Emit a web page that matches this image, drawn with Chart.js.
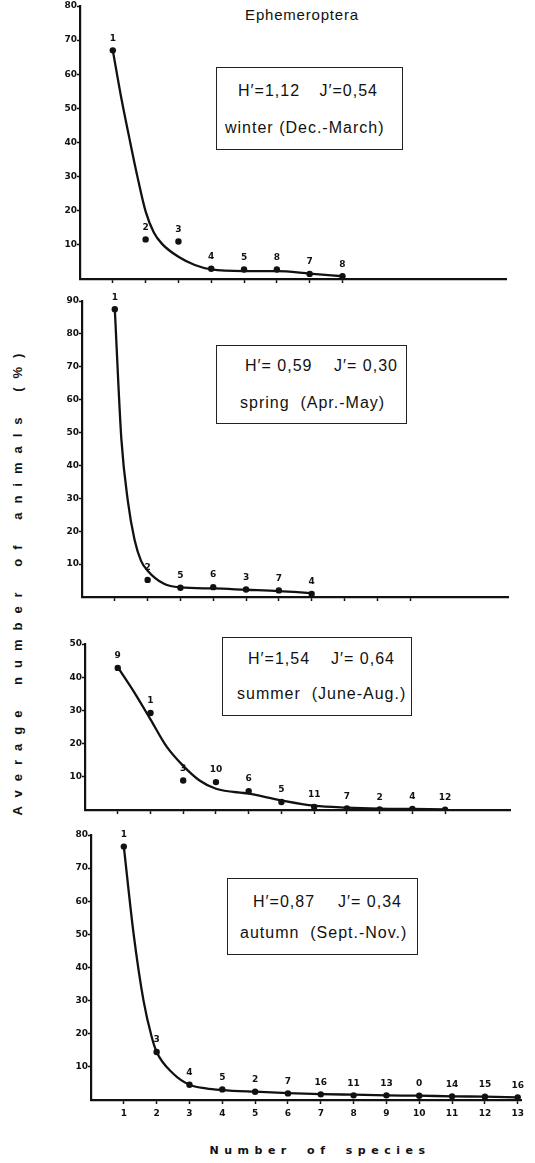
<!DOCTYPE html>
<html>
<head>
<meta charset="utf-8">
<script src="https://cdn.jsdelivr.net/npm/chart.js@4.4.1/dist/chart.umd.min.js"></script>
<style>
  html, body { margin: 0; padding: 0; background: #fff; }
  #page { position: relative; width: 535px; height: 1163px; overflow: hidden;
          font-family: "Liberation Sans", Arial, sans-serif; color: #111; }
  canvas.panel { position: absolute; left: 0; }
  .box { position: absolute; border: 1.5px solid #222; box-sizing: border-box; }
  .txt { position: absolute; font-size: 16px; letter-spacing: 1px; white-space: pre; line-height: 18px; }
  .row { position: absolute; display: flex; justify-content: space-between; font-size: 16px;
         letter-spacing: 1px; white-space: pre; line-height: 18px; }
  #title { position: absolute; left: 202px; width: 200px; top: 6px; text-align: center;
           font-size: 15px; letter-spacing: 0.8px; }
  #ytitle { position: absolute; left: -222px; top: 571px; width: 480px; height: 18px; line-height: 18px;
            text-align: center; transform: rotate(-90deg); font-size: 13px; font-weight: bold;
            letter-spacing: 9px; word-spacing: 4px; white-space: pre; }
  #xtitle { position: absolute; left: 170px; width: 300px; top: 1144px; text-align: center;
            font-family: "DejaVu Sans", sans-serif; font-size: 11px; font-weight: bold;
            letter-spacing: 5.5px; word-spacing: 6px; white-space: pre; }
</style>
</head>
<body>
<div id="page">
  <div id="title">Ephemeroptera</div>
  <div id="ytitle">Average number of animals (%)</div>
  <div id="xtitle">Number of species</div>

  <div class="box" style="left:216px;top:67px;width:187px;height:83px"></div>
  <div class="row" style="left:238px;top:82px;width:140px"><span>H′=1,12</span><span>J′=0,54</span></div>
  <div class="txt" style="left:225px;top:119px">winter (Dec.-March)</div>

  <div class="box" style="left:216px;top:345px;width:191px;height:79px"></div>
  <div class="row" style="left:245px;top:357px;width:153px"><span>H′= 0,59</span><span>J′= 0,30</span></div>
  <div class="txt" style="left:240px;top:394px">spring  (Apr.-May)</div>

  <div class="box" style="left:222px;top:637px;width:190px;height:79px"></div>
  <div class="row" style="left:248px;top:650px;width:147px"><span>H′=1,54</span><span>J′= 0,64</span></div>
  <div class="txt" style="left:237px;top:685px">summer  (June-Aug.)</div>

  <div class="box" style="left:227px;top:878px;width:191px;height:77px"></div>
  <div class="row" style="left:253px;top:893px;width:149px"><span>H′=0,87</span><span>J′= 0,34</span></div>
  <div class="txt" style="left:240px;top:924px">autumn  (Sept.-Nov.)</div>
</div>

<script>
// rank on the x axis (number of species)
const speciesTicks = [1, 2, 3, 4, 5, 6, 7, 8, 9, 10, 11, 12, 13];

// winter (Dec.-March)
const winterRank = [1, 2, 3, 4, 5, 6, 7, 8];
const winterPct = [67, 11.6, 11, 3, 2.8, 2.8, 1.5, 0.8];
const winterSpecies = ["1", "2", "3", "4", "5", "8", "7", "8"];
const winterCurveX = [1, 1.25, 1.5, 1.75, 2, 2.25, 2.5, 3, 3.5, 4, 5, 6, 7, 8];
const winterCurveY = [67, 53.5, 41.5, 30, 19.8, 13.6, 10.3, 6.5, 4.1, 2.8, 2.3, 2.3, 1.6, 0.8];
const winterYTicks = [10, 20, 30, 40, 50, 60, 70, 80];

// spring (Apr.-May)
const springRank = [1, 2, 3, 4, 5, 6, 7];
const springPct = [87.5, 5.2, 2.8, 3, 2.3, 2, 0.9];
const springSpecies = ["1", "2", "5", "6", "3", "7", "4"];
const springCurveX = [1, 1.2, 1.4, 1.6, 1.8, 2, 2.5, 3, 4, 5, 6, 7];
const springCurveY = [87.5, 48, 29, 17.5, 11, 8, 4, 2.9, 2.6, 2.2, 1.8, 1.2];
const springYTicks = [10, 20, 30, 40, 50, 60, 70, 80, 90];

// summer (June-Aug.)
const summerRank = [1, 2, 3, 4, 5, 6, 7, 8, 9, 10, 11];
const summerPct = [42.8, 29.2, 8.9, 8.4, 5.7, 2.4, 0.9, 0.5, 0.2, 0.3, 0.1];
const summerSpecies = ["9", "1", "3", "10", "6", "5", "11", "7", "2", "4", "12"];
const summerCurveX = [1, 1.5, 2, 2.5, 3, 3.5, 4, 5, 6, 7, 8, 9, 10, 11];
const summerCurveY = [43, 35.5, 27.3, 19, 13.3, 8.9, 6.4, 4.9, 2.9, 1.3, 0.7, 0.4, 0.3, 0.2];
const summerYTicks = [10, 20, 30, 40, 50];

// autumn (Sept.-Nov.)
const autumnRank = [1, 2, 3, 4, 5, 6, 7, 8, 9, 10, 11, 12, 13];
const autumnPct = [76.5, 14.5, 4.6, 3.2, 2.5, 2, 1.7, 1.4, 1.4, 1.3, 1.1, 1.0, 0.8];
const autumnSpecies = ["1", "3", "4", "5", "2", "7", "16", "11", "13", "0", "14", "15", "16"];
const autumnCurveX = [1, 1.3, 1.6, 1.85, 2, 2.5, 3, 3.5, 4, 5, 6, 7, 8, 9, 10, 11, 12, 13];
const autumnCurveY = [76.5, 50, 30, 19, 14.5, 8, 4.6, 3.5, 3, 2.5, 2.1, 1.8, 1.6, 1.4, 1.3, 1.1, 1.0, 0.8];
const autumnYTicks = [10, 20, 30, 40, 50, 60, 70, 80];

const INK = "#111";
const TICK_FONT = "'DejaVu Sans', sans-serif";
const page = document.getElementById("page");

// pixel frame of each panel's plot area
const panels = [
  { rank: winterRank, pct: winterPct, species: winterSpecies, cx: winterCurveX, cy: winterCurveY,
    yTicks: winterYTicks, yMax: 80, xMax: 13, nTicks: 8, labels: false,
    left: 80, right: 506.5, top: 6, bottom: 279 },
  { rank: springRank, pct: springPct, species: springSpecies, cx: springCurveX, cy: springCurveY,
    yTicks: springYTicks, yMax: 90, xMax: 13, nTicks: 10, labels: false,
    left: 82, right: 508.5, top: 301, bottom: 597 },
  { rank: summerRank, pct: summerPct, species: summerSpecies, cx: summerCurveX, cy: summerCurveY,
    yTicks: summerYTicks, yMax: 50, xMax: 13, nTicks: 11, labels: false,
    left: 85, right: 510.6, top: 644, bottom: 809.5 },
  { rank: autumnRank, pct: autumnPct, species: autumnSpecies, cx: autumnCurveX, cy: autumnCurveY,
    yTicks: autumnYTicks, yMax: 80, xMax: 13.1, nTicks: 13, labels: true,
    left: 91, right: 521, top: 835, bottom: 1100 },
];

panels.forEach(makePanel);

function makePanel(p) {
  const pad = 10;
  const yW = 40;
  const bottomH = p.labels ? 26 : 8;
  const h = Math.round(p.bottom - p.top + pad + bottomH);

  const canvas = document.createElement("canvas");
  canvas.className = "panel";
  canvas.width = 535;
  canvas.height = h;
  canvas.style.top = p.top - pad + "px";
  canvas.style.width = "535px";
  canvas.style.height = h + "px";
  page.appendChild(canvas);

  const speciesLabels = {
    id: "speciesLabels",
    afterDatasetsDraw(chart) {
      const ctx = chart.ctx;
      const meta = chart.getDatasetMeta(0);
      ctx.save();
      ctx.fillStyle = INK;
      ctx.font = "bold 9px " + TICK_FONT;
      ctx.textAlign = "center";
      ctx.textBaseline = "middle";
      meta.data.forEach((pt, i) => {
        ctx.fillText(p.species[i], pt.x, pt.y - 12);
      });
      ctx.restore();
    },
  };

  new Chart(canvas, {
    type: "line",
    data: {
      datasets: [
        {
          data: p.rank.map((r, i) => ({ x: r, y: p.pct[i] })),
          showLine: false,
          pointRadius: 3.2,
          pointBackgroundColor: INK,
          pointBorderWidth: 0,
        },
        {
          data: p.cx.map((x, i) => ({ x: x, y: p.cy[i] })),
          pointRadius: 0,
          borderColor: INK,
          borderWidth: 2.3,
          cubicInterpolationMode: "monotone",
          fill: false,
        },
      ],
    },
    options: {
      responsive: false,
      animation: false,
      devicePixelRatio: 1,
      layout: { padding: { top: pad, bottom: 0, left: p.left - yW, right: 535 - p.right } },
      plugins: { legend: { display: false }, tooltip: { enabled: false } },
      scales: {
        x: {
          type: "linear",
          min: 0,
          max: p.xMax,
          afterBuildTicks: (s) => {
            s.ticks = speciesTicks.slice(0, p.nTicks).map((v) => ({ value: v }));
          },
          afterFit: (s) => { s.height = bottomH; },
          grid: { drawOnChartArea: false, drawTicks: true, tickLength: 4, tickColor: INK, tickWidth: 1.5 },
          border: { color: INK, width: 2.2 },
          ticks: {
            autoSkip: false,
            maxRotation: 0,
            padding: 4,
            color: INK,
            font: { size: 9, weight: "bold", family: TICK_FONT },
            callback: (v) => (p.labels ? String(v) : ""),
          },
        },
        y: {
          min: 0,
          max: p.yMax,
          afterBuildTicks: (s) => {
            s.ticks = p.yTicks.map((v) => ({ value: v }));
          },
          afterFit: (s) => { s.width = yW; },
          grid: { drawOnChartArea: false, drawTicks: true, tickLength: 3, tickColor: INK, tickWidth: 1.5 },
          border: { color: INK, width: 2.2 },
          ticks: {
            autoSkip: false,
            padding: 0,
            color: INK,
            font: { size: 9, weight: "bold", family: TICK_FONT },
          },
        },
      },
    },
    plugins: [speciesLabels],
  });
}
</script>
</body>
</html>
